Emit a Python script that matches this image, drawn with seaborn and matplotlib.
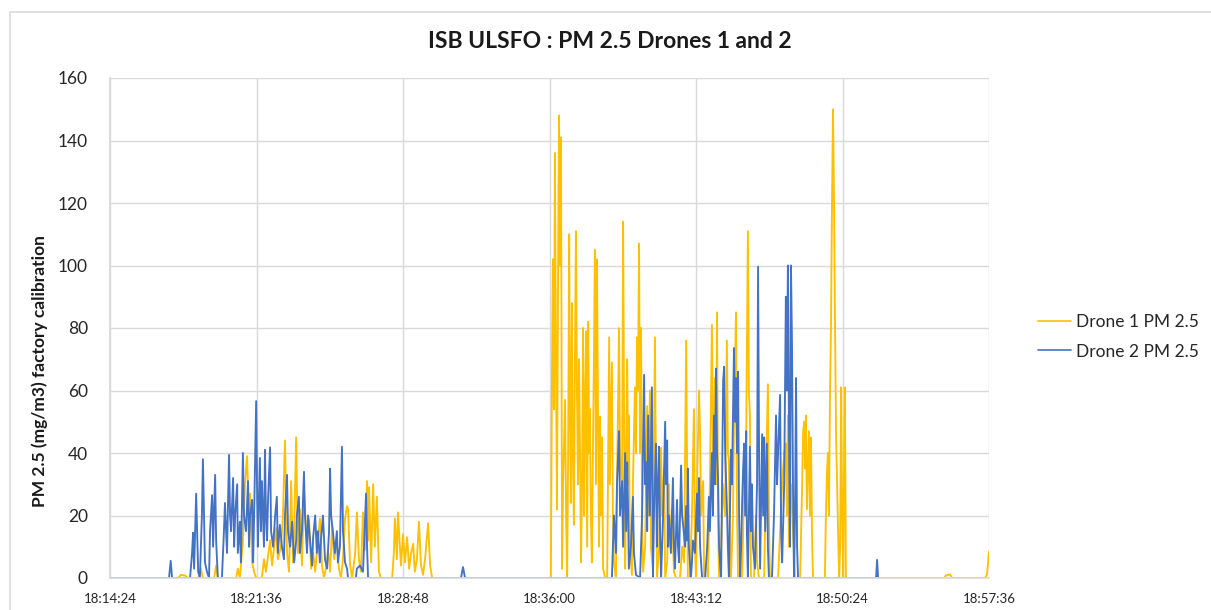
import numpy as np
import pandas as pd
import matplotlib
matplotlib.use("Agg")
import matplotlib.pyplot as plt
import matplotlib.dates as mdates
from matplotlib.patches import Rectangle
import seaborn as sns

# readings, seconds elapsed since 18:14:24
start_time = "2000-01-01 18:14:24"

d1_sec = [0, 201, 209, 221, 230, 262, 268, 274, 307, 313, 318, 372, 377, 383, 392, 398, 404, 410, 413, 419,
          425, 431, 448, 454, 460, 472, 478, 490, 495, 504, 510, 516, 522, 528, 534, 540, 543, 549, 554, 560,
          566, 572, 575, 581, 587, 593, 599, 605, 613, 619, 625, 631, 640, 643, 649, 655, 661, 669, 675, 681,
          687, 693, 699, 702, 708, 714, 723, 728, 734, 740, 746, 752, 758, 761, 764, 770, 776, 781, 787, 793,
          799, 832, 837, 840, 846, 849, 855, 858, 864, 870, 876, 882, 888, 894, 899, 905, 911, 917, 923, 929,
          938, 944, 950,
          1295, 1300, 1303, 1306, 1309, 1312, 1315, 1318, 1321, 1324, 1327, 1330, 1333, 1336, 1342, 1345, 1348,
          1351, 1354, 1356, 1359, 1362, 1365, 1368, 1371, 1374, 1377, 1380, 1383, 1386, 1389, 1392, 1395, 1398,
          1401, 1404, 1407, 1410, 1413, 1415, 1418, 1421, 1424, 1427, 1430, 1433, 1436, 1439, 1442, 1445, 1448,
          1451, 1454, 1460, 1466, 1469, 1472, 1474, 1480, 1483, 1486, 1492, 1495, 1501, 1504, 1510, 1513, 1516,
          1519, 1522, 1525, 1528, 1530, 1533, 1539, 1542, 1548, 1551, 1554, 1557, 1560, 1563, 1566, 1569, 1572,
          1578, 1584, 1587, 1592, 1595, 1601, 1607, 1610, 1613, 1619, 1625, 1628, 1634, 1637, 1643, 1648, 1651,
          1657, 1663, 1669, 1681, 1687, 1693, 1699, 1702, 1704, 1710, 1716, 1722, 1725, 1728, 1731, 1737, 1740,
          1743, 1749, 1752, 1763, 1769, 1775, 1778, 1784, 1787, 1790, 1793, 1796, 1802, 1808, 1814, 1819, 1822,
          1825, 1828, 1831, 1837, 1840, 1846, 1849, 1852, 1864, 1870, 1876, 1881, 1884, 1887, 1890, 1899, 1905,
          1908, 1914, 1929, 1934, 1940, 1943, 1946, 1970, 1976, 1982, 1988, 1993, 1996, 1999, 2002, 2008, 2014,
          2020, 2035, 2041, 2044, 2047, 2050, 2052, 2055, 2058, 2061, 2064, 2067, 2070, 2073, 2108, 2111, 2114,
          2117, 2120, 2123, 2126, 2129, 2132, 2135, 2138, 2141, 2144, 2147, 2150, 2153, 2156, 2159, 2162, 2165,
          2167, 2170, 2459, 2465, 2477, 2483, 2580, 2586, 2592]
d1_pm = [0, 0, 1, 0.8, 0, 0, 3, 0, 0, 4, 0, 0, 3, 0, 12, 30, 39, 20, 27, 5,
         2, 0, 0, 6, 2, 12, 4, 16, 6, 10, 20, 44, 8, 2, 31, 5, 15, 45, 8, 22,
         4, 28, 22, 10, 19, 3, 8, 2, 12, 19, 4, 0, 5, 9, 2, 17, 6, 12, 3, 0,
         6, 19, 23, 22, 4, 0, 8, 21, 6, 2, 21, 9, 31, 12, 29, 5, 30, 10, 26, 2,
         0, 0, 8, 19, 6, 21, 10, 4, 14, 5, 13, 3, 8, 11, 2, 6, 18, 4, 1, 6,
         17.5, 4, 0,
         0, 0, 60, 102, 54, 136, 70, 22, 90, 148, 100, 141, 3, 30, 57, 20, 0,
         40, 110, 60, 24, 88, 40, 17, 70, 111, 59, 30, 70, 40, 5, 30, 80, 20,
         55, 79, 10, 82, 40, 54, 20, 5, 40, 70, 105, 30, 102, 52, 10, 51.6, 20,
         45, 3, 0, 0, 40, 77, 30, 69, 20, 5, 0, 30, 80, 40, 28, 114, 50,
         3, 40, 70, 30, 52, 10, 1, 30, 61, 40, 77, 60, 107, 40, 80, 20, 2,
         10, 55, 20, 60, 10, 3, 77, 30, 0, 10, 41.6, 20, 35, 0, 5, 30, 10,
         22, 2, 0, 0, 10, 5, 76, 30, 0, 0, 20, 54, 10, 0, 30, 60, 46,
         20, 31, 0, 0, 30, 81, 40, 64, 30, 85, 20, 0, 10, 30, 20, 76, 40,
         38, 10, 0, 20, 50, 85, 20, 0, 0, 30, 45, 111, 60, 52, 0, 0, 20,
         5, 0, 0, 30, 62, 20, 0, 0, 15, 30, 40, 43, 20, 52, 10, 30, 15,
         0, 0, 30, 47, 50, 35, 52, 22, 35, 47, 20, 45, 15, 0, 0, 20, 33,
         40, 20, 57.6, 80, 120, 150, 120, 80, 46, 30, 15, 0, 10, 61, 20, 0, 40,
         61, 0, 0, 0.8, 1.2, 0, 0, 1, 8.4]

d2_sec = [0, 174, 179, 183, 236, 242, 245, 248, 254, 260, 265, 271, 274, 280, 286, 292, 295, 301, 304, 310,
          313, 318, 330, 336, 339, 345, 351, 354, 357, 363, 366, 369, 375, 377, 383, 386, 392, 395, 401, 407,
          410, 413, 419, 422, 425, 431, 434, 436, 439, 442, 445, 448, 454, 457, 460, 463, 466, 472, 475, 481,
          487, 492, 495, 501, 507, 513, 516, 522, 525, 531, 537, 543, 549, 551, 557, 560, 566, 572, 575, 581,
          584, 590, 596, 599, 605, 610, 613, 619, 622, 628, 634, 640, 646, 649, 652, 658, 663, 669, 672, 678,
          684, 687, 693, 699, 702, 725, 728, 737, 746, 749, 755, 758, 761, 1035, 1041, 1047,
          1480, 1483, 1486, 1492, 1495, 1501, 1504, 1510, 1513, 1519, 1522, 1525, 1528, 1530, 1536, 1542, 1545,
          1551, 1563, 1569, 1575, 1578, 1581, 1584, 1587, 1592, 1598, 1601, 1604, 1610, 1613, 1616, 1619, 1622,
          1625, 1631, 1637, 1640, 1643, 1645, 1648, 1654, 1660, 1663, 1666, 1672, 1675, 1678, 1684, 1687, 1690,
          1696, 1699, 1702, 1704, 1707, 1713, 1716, 1719, 1725, 1731, 1734, 1737, 1740, 1746, 1755, 1761, 1766,
          1769, 1775, 1778, 1781, 1784, 1787, 1790, 1793, 1796, 1802, 1805, 1808, 1811, 1814, 1819, 1822, 1825,
          1828, 1831, 1834, 1840, 1843, 1846, 1849, 1852, 1855, 1858, 1861, 1864, 1867, 1870, 1873, 1876, 1878,
          1881, 1884, 1887, 1890, 1893, 1896, 1902, 1908, 1911, 1914, 1917, 1920, 1923, 1926, 1929, 1932, 1937,
          1940, 1943, 1952, 1958, 1964, 1967, 1970, 1976, 1979, 1982, 1988, 1993, 1996, 1999, 2002, 2005, 2008,
          2011, 2014, 2017, 2020, 2023, 2026, 2029, 2259, 2262, 2265, 2271]
d2_pm = [0, 0, 5.5, 0, 0, 8, 14.5, 3, 27, 2, 0, 20, 38, 5, 2, 0, 15, 26.5, 10, 33,
         12, 0, 0, 15, 24, 8, 39.4, 20, 15, 32, 10, 20, 30, 8, 18, 5, 40, 20, 15, 31,
         10, 20, 25, 5, 20, 56.6, 25, 10, 25, 38.4, 15, 31, 10, 41, 20, 12, 25, 41.8, 15, 10,
         20, 26, 8, 17, 10, 6, 20, 33, 15, 10, 18, 5, 12, 20, 26, 8, 15, 34, 20, 8,
         20, 12, 4, 13, 20, 8, 15, 5, 12, 20, 6, 3, 15, 35, 20, 14, 8, 15, 5, 10,
         42, 15, 5, 3, 0, 0, 3, 4, 2, 10, 27, 10, 0, 0, 3.5, 0,
         0, 10, 20, 8, 30, 47, 20, 31, 10, 40, 15, 37, 20, 3, 10, 26, 8,
         1, 0, 20, 65, 30, 37, 15, 52, 20, 61, 0, 20, 43, 10, 30, 42, 15,
         0, 20, 50, 30, 44, 10, 20, 8, 32, 10, 3, 25, 10, 5, 36, 20, 17,
         10, 23, 12, 35, 10, 0, 5, 12, 8, 27, 15, 32, 10, 0, 0, 10, 26,
         15, 40, 20, 52, 30, 67, 40, 32, 10, 0, 30, 63, 67.6, 40, 23, 10, 0,
         20, 41, 30, 73.6, 50, 64, 40, 66, 20, 0, 10, 24, 35, 43, 20, 47, 15,
         0, 20, 42, 15, 30, 10, 3, 30, 99.6, 40, 3, 25, 46, 20, 45, 15, 43,
         10, 0, 0, 20, 52, 30, 40, 58.6, 15, 5, 30, 90, 60, 100, 50, 10, 100,
         75.6, 30, 0, 20, 64, 10, 0, 0, 5.8, 0, 0]

series_names = ["Drone 1 PM 2.5", "Drone 2 PM 2.5"]
series_colors = ["#FFC000", "#4472C4"]

y_ticks = [0, 20, 40, 60, 80, 100, 120, 140, 160]
x_tick_step = 432  # 7 min 12 s

t0 = pd.Timestamp(start_time)
df = pd.concat([
    pd.DataFrame({"time": t0 + pd.to_timedelta(d1_sec, unit="s"), "pm": d1_pm, "series": series_names[0]}),
    pd.DataFrame({"time": t0 + pd.to_timedelta(d2_sec, unit="s"), "pm": d2_pm, "series": series_names[1]}),
], ignore_index=True)

sns.set_theme(style="whitegrid")
plt.rcParams["font.family"] = ["Lato", "DejaVu Sans"]

W, H = 1211, 610
fig = plt.figure(figsize=(W / 100, H / 100), dpi=100)
ax = fig.add_axes([110 / W, 1 - 578 / H, (989 - 110) / W, (578 - 78) / H])

sns.lineplot(data=df, x="time", y="pm", hue="series", hue_order=series_names,
             palette=series_colors, estimator=None, linewidth=1.35, ax=ax, legend=True)

ax.set_xlim(t0, t0 + pd.Timedelta(seconds=6 * x_tick_step))
ax.set_xticks([t0 + pd.Timedelta(seconds=i * x_tick_step) for i in range(7)])
ax.xaxis.set_major_formatter(mdates.DateFormatter("%H:%M:%S"))
ax.set_ylim(0, 160)
ax.set_yticks(y_ticks)

ax.grid(True, color="#d9d9d9", linewidth=1.0)
for s in ["top", "right"]:
    ax.spines[s].set_visible(False)
ax.spines["left"].set_color("#d9d9d9")
ax.spines["bottom"].set_color("#d9d9d9")
ax.tick_params(axis="y", length=0, pad=16, labelsize=12.5, labelcolor="#262626")
ax.tick_params(axis="x", length=0, pad=11, labelsize=9.5, labelcolor="#262626")
ax.set_xlabel("")
ax.set_ylabel("")

handles, labels = ax.get_legend_handles_labels()
for h in handles:
    h.set_linewidth(1.2)
ax.legend(handles, labels, loc="center left", bbox_to_anchor=(1038 / W, 1 - 337 / H),
          bbox_transform=fig.transFigure, frameon=False, fontsize=12.5,
          handlelength=1.9, handletextpad=0.3, labelspacing=0.75, borderpad=0, borderaxespad=0)

fig.text(610 / W, 1 - 42 / H, "ISB ULSFO : PM 2.5 Drones 1 and 2", ha="center", va="center",
         fontsize=16.5, fontweight="bold", color="#1a1a1a")
fig.text(40 / W, 1 - 371 / H, "PM 2.5 (mg/m3) factory calibration", ha="center", va="center",
         rotation=90, fontsize=12.5, fontweight="bold", color="#1a1a1a")

fig.add_artist(Rectangle((10 / W, -0.02), 1.0, 1.02 - 12 / H, transform=fig.transFigure,
                         fill=False, edgecolor="#d9d9d9", linewidth=1.2))

fig.savefig("out.png", dpi=100, facecolor="white")
